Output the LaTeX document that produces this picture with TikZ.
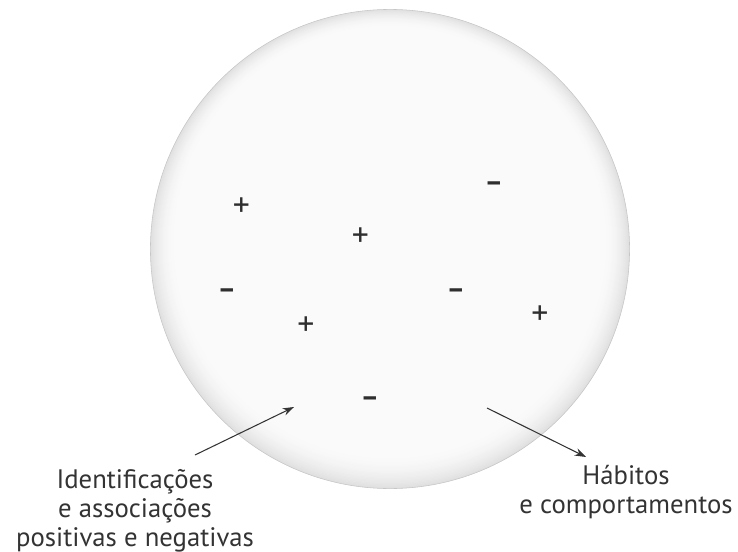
\documentclass[tikz,border=0pt]{standalone}
\usepackage{fontspec}
\setmainfont{PT Sans}
\usepackage{xcolor}
\usetikzlibrary{positioning,arrows.meta}
\definecolor{inkgray}{HTML}{333333}
\definecolor{signgray}{HTML}{2E2E2E}

\begin{document}
\begin{tikzpicture}[
  x=0.025cm, y=-0.025cm,
  bubble/.style={circle, draw=gray!45, line width=.4pt, fill=gray!24, minimum size=11.975cm, inner sep=0pt},
  sign/.style={text=signgray, inner sep=0pt, font=\fontsize{24}{24}\selectfont},
  minussign/.style={sign, font=\bfseries\fontsize{20}{20}\selectfont},
  label/.style={text=inkgray, align=center, inner sep=0pt, font=\fontsize{19}{20.6}\selectfont},
  arrow/.style={-{Stealth[length=8pt,width=5.5pt]}, line width=.75pt, draw=inkgray}
]
\useasboundingbox (0,0) rectangle (738,552);
\node[bubble] (bubble) at (390,249) {};
% soft rim, darker towards the bottom
\foreach \i in {1,...,26}{
  \pgfmathsetmacro{\shade}{4+20*((26-\i)/26)^2}
  \fill[gray!\shade] ([yshift=\i*0.3*0.025cm]bubble.center) circle[radius=(239.5-\i)*0.025cm];
}
% signs
\node[sign] (plusa) at (241.5,207) {+};
\node[sign] (plusb) at (360.5,237) {+};
\node[sign] (plusc) at (306,326) {+};
\node[sign] (plusd) at (540,315) {+};
\node[minussign] (minusa) at (227,294) {–};
\node[minussign] (minusb) at (494,187) {–};
\node[minussign] (minusc) at (456,294) {–};
\node[minussign] (minusd) at (370,402) {–};
% labels
\node[label, anchor=north] (ident) at (135,469) {Identificações\\e associações\\positivas e negativas};
\node[label, anchor=north] (habits) at (626,465) {Hábitos\\e comportamentos};
\coordinate (identtail) at (195,455);
\coordinate (identtip) at (294,407);
\coordinate (habtail) at (487,408);
\coordinate (habtip) at (586,457);
\draw[arrow] (identtail) -- (identtip);
\draw[arrow] (habtail) -- (habtip);
\end{tikzpicture}
\end{document}
